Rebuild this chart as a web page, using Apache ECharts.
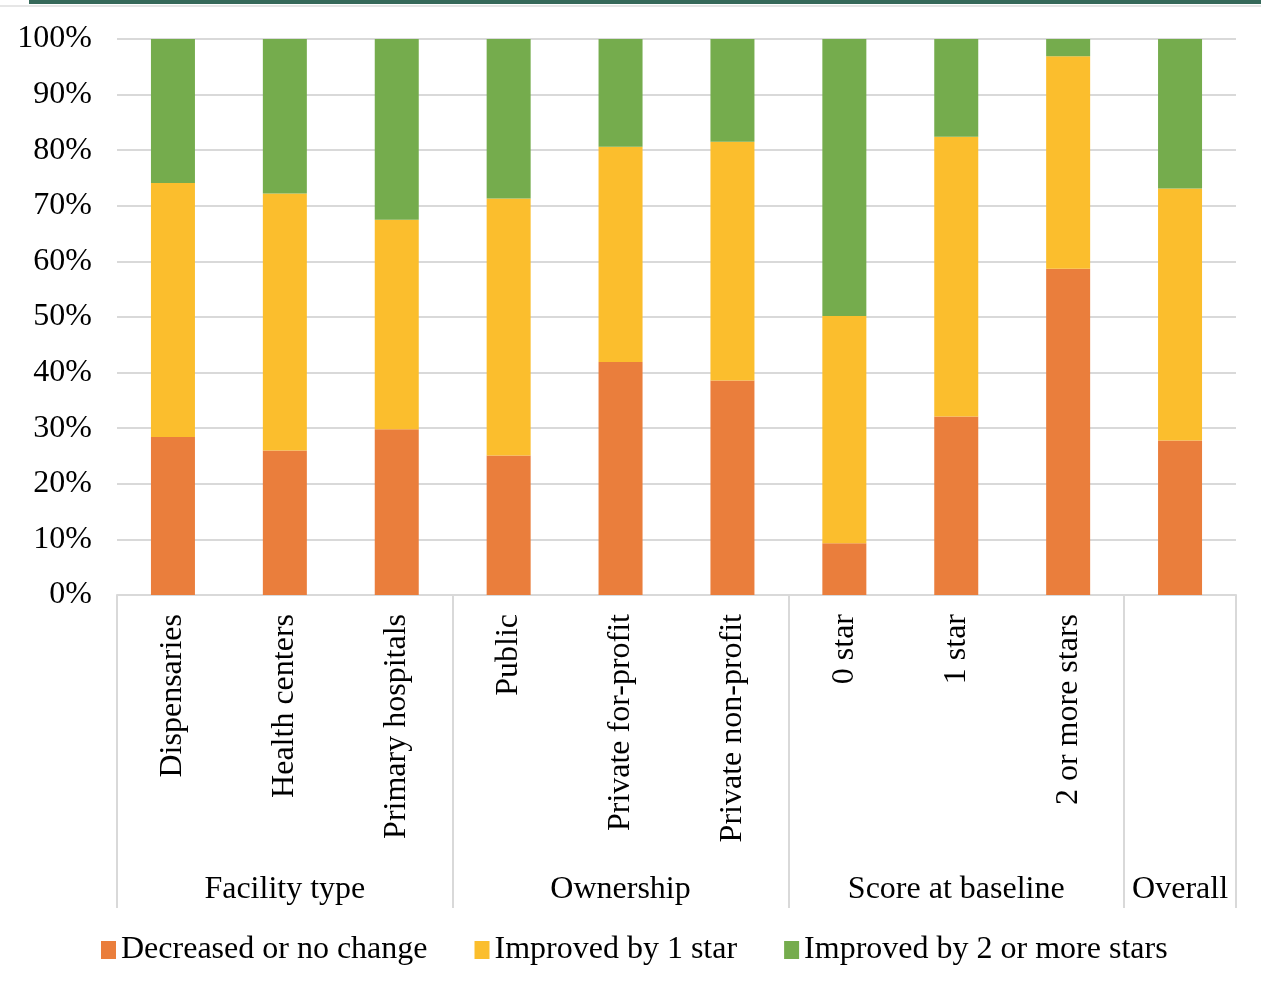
<!DOCTYPE html>
<html>
<head>
<meta charset="utf-8">
<title>Change in star rating</title>
<script src="https://cdn.jsdelivr.net/npm/echarts@6/dist/echarts.min.js"></script>
<style>
  html, body { margin: 0; padding: 0; background: #ffffff; }
  #chart { width: 1261px; height: 992px; }
</style>
</head>
<body>
<div id="chart"></div>
<script>
// Facility categories along the x axis, and the group each one belongs to
const categories = ['Dispensaries', 'Health centers', 'Primary hospitals', 'Public',
  'Private for-profit', 'Private non-profit', '0 star', '1 star', '2 or more stars', 'Overall'];
const groupLabels = ['', 'Facility type', '', '', 'Ownership', '', '', 'Score at baseline', '', 'Overall'];
const groupStarts = [0, 3, 6, 9];

// Share of facilities (%) in each outcome
const decreasedOrNoChange = [28.4, 26.0, 29.8, 25.1, 41.9, 38.6, 9.3, 32.1, 58.7, 27.8];
const improvedBy1 = [45.7, 46.2, 37.7, 46.2, 38.7, 42.9, 40.9, 50.3, 38.2, 45.3];
const improvedBy2Plus = [25.9, 27.8, 32.5, 28.7, 19.4, 18.5, 49.8, 17.6, 3.1, 26.9];

const seriesNames = ['Decreased or no change', 'Improved by 1 star', 'Improved by 2 or more stars'];
const yTicks = [0, 10, 20, 30, 40, 50, 60, 70, 80, 90, 100];

const FONT = '"Liberation Serif", "Times New Roman", serif';
const GRID_GRAY = '#d9d9d9';
const colors = ['#EA7E3C', '#FBBE2D', '#75AC4D'];

const chart = echarts.init(document.getElementById('chart'), null, { renderer: 'canvas' });

const mkSeries = (name, data, color) => ({
  name: name,
  type: 'bar',
  stack: 'total',
  barWidth: 44,
  data: data,
  itemStyle: { color: color },
  emphasis: { disabled: true }
});

chart.setOption({
  animation: false,
  backgroundColor: '#ffffff',
  textStyle: { fontFamily: FONT, color: '#000' },
  graphic: [
    { type: 'rect', shape: { x: 29, y: 0, width: 1232, height: 4 }, style: { fill: '#36695A' } },
    { type: 'rect', shape: { x: 0, y: 5, width: 1261, height: 2 }, style: { fill: '#e6e6e6' } }
  ],
  grid: { left: 117, right: 25, top: 39, bottom: 397, containLabel: false },
  legend: {
    data: seriesNames,
    left: 96,
    top: 929,
    icon: 'rect',
    itemWidth: 15,
    itemHeight: 18,
    itemGap: 47,
    textStyle: { fontFamily: FONT, fontSize: 32, color: '#000' },
    selectedMode: false
  },
  xAxis: [
    {
      type: 'category',
      data: categories,
      axisLine: { show: true, lineStyle: { color: GRID_GRAY, width: 2 } },
      axisTick: { show: false },
      axisLabel: {
        interval: 0,
        rotate: 90,
        margin: 19,
        fontFamily: FONT,
        fontSize: 32,
        color: '#000',
        // a single-member group is named only by its group label
        formatter: function (value, index) { return value === groupLabels[index] ? '' : value; }
      },
      splitLine: { show: false }
    },
    {
      type: 'category',
      data: categories,
      position: 'bottom',
      offset: 0,
      axisLine: { show: false },
      axisTick: {
        show: true,
        length: 313,
        interval: function (index) { return groupStarts.indexOf(index) !== -1; },
        lineStyle: { color: GRID_GRAY, width: 2 }
      },
      axisLabel: {
        interval: 0,
        margin: 279,
        fontFamily: FONT,
        fontSize: 32,
        color: '#000',
        formatter: function (value, index) { return groupLabels[index]; }
      },
      splitLine: { show: false }
    }
  ],
  yAxis: {
    type: 'value',
    min: yTicks[0],
    max: yTicks[yTicks.length - 1],
    interval: 10,
    axisLine: { show: false },
    axisTick: { show: false },
    axisLabel: {
      margin: 25,
      fontFamily: FONT,
      fontSize: 32,
      color: '#000',
      formatter: '{value}%'
    },
    splitLine: { show: true, lineStyle: { color: GRID_GRAY, width: 2 } }
  },
  series: [
    mkSeries(seriesNames[0], decreasedOrNoChange, colors[0]),
    mkSeries(seriesNames[1], improvedBy1, colors[1]),
    mkSeries(seriesNames[2], improvedBy2Plus, colors[2])
  ]
});
</script>
</body>
</html>
